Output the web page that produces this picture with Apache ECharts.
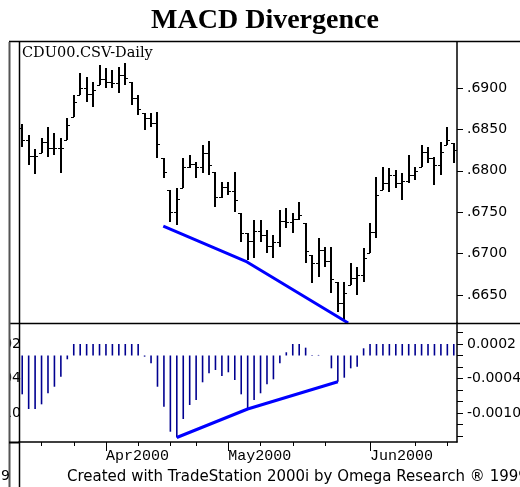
<!DOCTYPE html>
<html><head><meta charset="utf-8">
<script src="https://cdn.jsdelivr.net/npm/echarts@6/dist/echarts.min.js"></script>
<style>html,body{margin:0;padding:0;background:#fff}#c{width:520px;height:487px}</style>
</head><body><div id="c"></div>
<script>
const dates = ['2000-03-15','2000-03-16','2000-03-17','2000-03-20','2000-03-21','2000-03-22','2000-03-23','2000-03-24','2000-03-27','2000-03-28','2000-03-29','2000-03-30','2000-03-31',
'2000-04-03','2000-04-04','2000-04-05','2000-04-06','2000-04-07','2000-04-10','2000-04-11','2000-04-12','2000-04-13','2000-04-14','2000-04-17','2000-04-18','2000-04-19','2000-04-20','2000-04-24','2000-04-25','2000-04-26','2000-04-27','2000-04-28',
'2000-05-01','2000-05-02','2000-05-03','2000-05-04','2000-05-05','2000-05-08','2000-05-09','2000-05-10','2000-05-11','2000-05-12','2000-05-15','2000-05-16','2000-05-17','2000-05-18','2000-05-19','2000-05-22','2000-05-23','2000-05-24','2000-05-25','2000-05-26','2000-05-30','2000-05-31',
'2000-06-01','2000-06-02','2000-06-05','2000-06-06','2000-06-07','2000-06-08','2000-06-09','2000-06-12','2000-06-13','2000-06-14','2000-06-15','2000-06-16','2000-06-19','2000-06-20'];
const high = [0.68565,0.68432,0.68263,0.68396,0.68529,0.68457,0.68396,0.68638,0.68915,0.69181,0.69133,0.69072,0.69278,0.69242,0.69217,0.69254,0.69302,0.69072,0.68915,0.68698,0.68698,0.68710,0.68155,0.67768,0.67792,0.68155,0.68191,0.68106,0.68312,0.68360,0.67986,0.67865,0.67865,0.67986,0.67490,0.67249,0.67406,0.67406,0.67285,0.67225,0.67527,0.67551,0.67490,0.67623,0.67370,0.66983,0.67188,0.67080,0.67080,0.66657,0.66657,0.66887,0.66838,0.67068,0.67370,0.67925,0.68046,0.68034,0.68010,0.67973,0.68191,0.68046,0.68312,0.68287,0.68167,0.68348,0.68529,0.68336];
const low = [0.68287,0.68070,0.67961,0.68215,0.68167,0.68191,0.67973,0.68372,0.68650,0.68915,0.68831,0.68771,0.69036,0.69000,0.69000,0.68940,0.69036,0.68795,0.68674,0.68493,0.68529,0.68155,0.67913,0.67382,0.67345,0.67792,0.68034,0.67913,0.67973,0.67949,0.67563,0.67672,0.67708,0.67502,0.67140,0.66923,0.66947,0.67140,0.67007,0.66947,0.67080,0.67309,0.67249,0.67406,0.66887,0.66645,0.66717,0.66838,0.66524,0.66295,0.66198,0.66621,0.66500,0.66657,0.67007,0.67188,0.67768,0.67744,0.67792,0.67647,0.67853,0.67889,0.68046,0.68094,0.67829,0.67949,0.68312,0.68094];
const open = [0.68517,0.68372,0.68179,0.68215,0.68348,0.68275,0.68275,0.68372,0.68650,0.68915,0.69000,0.68928,0.69036,0.69109,0.69072,0.69060,0.69157,0.69072,0.68879,0.68698,0.68638,0.68577,0.68155,0.67768,0.67502,0.67792,0.68046,0.68082,0.68046,0.68215,0.67986,0.67684,0.67804,0.67756,0.67490,0.67249,0.67152,0.67273,0.67225,0.67092,0.67140,0.67394,0.67382,0.67418,0.67370,0.66983,0.66887,0.67044,0.66911,0.66657,0.66403,0.66621,0.66705,0.66742,0.67007,0.67261,0.67768,0.67853,0.67949,0.67853,0.67877,0.67949,0.68046,0.68227,0.68155,0.68070,0.68312,0.68336];
const close = [0.68372,0.68179,0.68179,0.68348,0.68275,0.68275,0.68275,0.68553,0.68831,0.69000,0.68928,0.68976,0.69109,0.69072,0.69060,0.69157,0.69121,0.68879,0.68746,0.68638,0.68577,0.68324,0.67986,0.67502,0.67660,0.68046,0.68082,0.68046,0.68215,0.68070,0.67684,0.67804,0.67756,0.67647,0.67249,0.67152,0.67273,0.67225,0.67092,0.67140,0.67394,0.67382,0.67418,0.67466,0.67031,0.66887,0.67044,0.66911,0.66693,0.66403,0.66524,0.66705,0.66742,0.66947,0.67261,0.67708,0.67853,0.67949,0.67853,0.67877,0.67949,0.67998,0.68227,0.68155,0.68070,0.68227,0.68372,0.68251];
const macdHist = [-0.000675,-0.00093,-0.00093,-0.000849,-0.000657,-0.000543,-0.000369,-0.000066,
0.0002,0.0002,0.0002,0.0002,0.0002,0.0002,0.0002,0.0002,0.0002,0.0002,0.0002,
-0.00002,-0.000136,-0.000543,-0.00089,-0.001325,-0.001426,-0.001104,-0.000861,-0.000774,-0.000466,-0.00031,-0.000252,-0.000357,-0.000292,-0.000426,-0.000675,-0.00093,-0.000774,-0.000657,-0.000501,-0.000414,-0.000136,0.000056,0.0002,0.0002,0.000136,0.00001,0.00001,0,-0.000223,-0.000456,-0.000386,-0.000223,-0.000195,0.000125,
0.0002,0.0002,0.0002,0.0002,0.0002,0.0002,0.0002,0.0002,0.0002,0.0002,0.0002,0.0002,0.0002,0.0002];
const priceTrend = [[21.9,0.67333],[34.9,0.66899],[50.6,0.66162]];
const histTrend = [[24,-0.001426],[35,-0.00093],[49,-0.000456]];
const priceTicks = [0.665,0.670,0.675,0.680,0.685,0.690];
const histTicks = [-0.0014,-0.0012,-0.0010,-0.0008,-0.0006,-0.0004,-0.0002,0,0.0002,0.0004];
const histLabels = [0.0002,-0.0004,-0.0010];
const weekTickIdx = [3,8,13,18,23,27,32,37,42,47,54,61,66];
const monthTickIdx = [13,32,54];
const monthLabels = ['Apr2000','May2000','Jun2000'];

const chart = echarts.init(document.getElementById('c'), null, {renderer:'canvas'});
const ohlc = dates.map((d,i)=>[i, open[i], high[i], low[i], close[i]]);
const xMin = -0.5, xMax = dates.length - 0.5;
const lbl = {fontFamily:'DejaVu Sans', fontSize:14, color:'#000'};
function L(x1,y1,x2,y2,c,w){return {type:'line',z:100,shape:{x1,y1,x2,y2},style:{stroke:c,lineWidth:w}};}

chart.setOption({
  animation:false,
  backgroundColor:'#fff',
  grid:[{left:19,top:42,width:438,height:281,outerBoundsMode:'none',containLabel:false},
        {left:19,top:323,width:438,height:119,outerBoundsMode:'none',containLabel:false}],
  xAxis:[
    {gridIndex:0,type:'value',min:xMin,max:xMax,show:false},
    {gridIndex:1,type:'value',position:'bottom',min:xMin,max:xMax,splitLine:{show:false},
     axisLine:{show:true,onZero:false,lineStyle:{color:'#000',width:1.5}},
     axisTick:{show:true,customValues:weekTickIdx,length:4,lineStyle:{color:'#000'}},
     axisLabel:{customValues:monthTickIdx,formatter:v=>monthLabels[monthTickIdx.indexOf(v)],align:'left',margin:7,
       fontFamily:'Liberation Mono',fontSize:15,color:'#000'}},
    {gridIndex:1,type:'value',position:'bottom',min:xMin,max:xMax,splitLine:{show:false},
     axisLine:{show:false,onZero:false},
     axisTick:{show:true,customValues:monthTickIdx,length:9,lineStyle:{color:'#000'}},
     axisLabel:{show:false}}
  ],
  yAxis:[
    {gridIndex:0,type:'value',position:'right',min:0.66162,max:0.69556,splitLine:{show:false},
     axisLine:{show:true,onZero:false,lineStyle:{color:'#000',width:1.5}},
     axisTick:{show:true,customValues:priceTicks,length:6,lineStyle:{color:'#000'}},
     axisLabel:Object.assign({customValues:priceTicks,margin:10,formatter:v=>v.toFixed(4).slice(1)},lbl)},
    {gridIndex:1,type:'value',position:'right',min:-0.001504,max:0.000565,splitLine:{show:false},
     axisLine:{show:true,onZero:false,lineStyle:{color:'#000',width:1.5}},
     axisTick:{show:true,customValues:histTicks,length:6,lineStyle:{color:'#000'}},
     axisLabel:Object.assign({customValues:histLabels,margin:10,formatter:v=>v.toFixed(4)},lbl)},
    {gridIndex:1,type:'value',position:'left',min:-0.001504,max:0.000565,splitLine:{show:false},
     axisLine:{show:false,onZero:false},axisTick:{show:false},
     axisLabel:Object.assign({customValues:histLabels,margin:-2,formatter:v=>v.toFixed(4)},lbl)}
  ],
  series:[
    {type:'custom',xAxisIndex:0,yAxisIndex:0,data:ohlc,encode:{x:0,y:[1,2,3,4]},clip:true,
     renderItem:function(params,api){
       const x=api.value(0);
       const po=api.coord([x,api.value(1)]), ph=api.coord([x,api.value(2)]), pl=api.coord([x,api.value(3)]), pc=api.coord([x,api.value(4)]);
       const cx=Math.round(ph[0]);
       return {type:'group',children:[
         {type:'line',shape:{x1:cx,y1:ph[1],x2:cx,y2:pl[1]},style:{stroke:'#000',lineWidth:2}},
         {type:'line',shape:{x1:cx-3,y1:Math.round(po[1])+0.5,x2:cx,y2:Math.round(po[1])+0.5},style:{stroke:'#000',lineWidth:1}},
         {type:'line',shape:{x1:cx,y1:Math.round(pc[1])+0.5,x2:cx+3,y2:Math.round(pc[1])+0.5},style:{stroke:'#000',lineWidth:1}}
       ]};
     }},
    {type:'line',xAxisIndex:0,yAxisIndex:0,data:priceTrend,symbol:'none',lineStyle:{color:'#0000ff',width:3},z:5},
    {type:'bar',xAxisIndex:1,yAxisIndex:1,data:macdHist.map((v,i)=>[i,v]),barWidth:1.6,itemStyle:{color:'#000090'}},
    {type:'line',xAxisIndex:1,yAxisIndex:1,data:histTrend,symbol:'none',lineStyle:{color:'#0000ff',width:3},z:5}
  ],
  graphic:[
    {type:'rect',z:99,shape:{x:0,y:42,width:9,height:420},style:{fill:'#fff'}},
    L(9,41.5,520,41.5,'#000',1.5),
    L(9,323.5,520,323.5,'#000',1.5),
    L(9.5,42,9.5,487,'#555',2),
    L(19.5,42,19.5,487,'#000',1.5),
    L(9,442.5,19,442.5,'#000',2),
    {type:'text',z:100,x:265,y:21,style:{text:'MACD Divergence',fontFamily:'Liberation Serif',fontWeight:'bold',fontSize:28,fill:'#000',align:'center',verticalAlign:'middle'}},
    {type:'text',z:100,x:22,y:53,style:{text:'CDU00.CSV-Daily',fontFamily:'DejaVu Serif',fontSize:14.5,fill:'#000',align:'left',verticalAlign:'middle'}},
    {type:'text',z:100,x:67,y:477,style:{text:'Created with TradeStation 2000i by Omega Research \u00AE 1999',fontFamily:'DejaVu Sans',fontSize:15,fill:'#000',align:'left',verticalAlign:'middle'}},
    {type:'text',z:100,x:1,y:476,style:{text:'9',fontFamily:'DejaVu Sans',fontSize:14,fill:'#000',align:'left',verticalAlign:'middle'}}
  ]
});
</script></body></html>
